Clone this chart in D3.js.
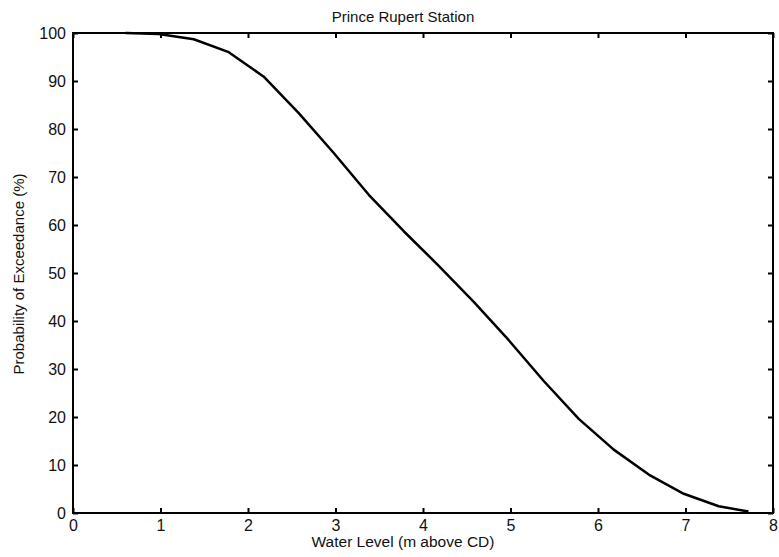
<!DOCTYPE html>
<html>
<head>
<meta charset="utf-8">
<script src="https://cdn.jsdelivr.net/npm/d3@7"></script>
<style>
  body { margin: 0; background: #fff; }
  text { font-family: "Liberation Sans", Arial, sans-serif; fill: #111; }
</style>
</head>
<body>
<svg id="plot" width="779" height="557"></svg>
<script>
const svg = d3.select('#plot');

// Data
const waterLevel = [0.6, 0.98, 1.38, 1.78, 2.18, 2.58, 2.98, 3.38, 3.78, 4.18, 4.58, 4.98, 5.38, 5.78, 6.18, 6.58, 6.98, 7.38, 7.72];
const exceedance = [100, 99.8, 98.7, 96, 90.9, 83.3, 75, 66.3, 58.7, 51.5, 44, 36, 27.5, 19.6, 13.2, 8, 4, 1.4, 0.3];
const xTicks = [0, 1, 2, 3, 4, 5, 6, 7, 8];
const yTicks = [0, 10, 20, 30, 40, 50, 60, 70, 80, 90, 100];

const data = waterLevel.map((x, i) => ({x: x, y: exceedance[i]}));

const margin = {top: 33, left: 73, right: 6, bottom: 44};
const innerWidth = 779 - margin.left - margin.right;
const innerHeight = 557 - margin.top - margin.bottom;

const xScale = d3.scaleLinear().domain([0, 8]).range([0, innerWidth]);
const yScale = d3.scaleLinear().domain([0, 100]).range([innerHeight, 0]);

const g = svg.append('g')
    .attr('transform', `translate(${margin.left}, ${margin.top})`);

// inward ticks on all four sides, like MATLAB
const tickLen = 5;
const xAxis = d3.axisBottom(xScale).tickValues(xTicks).tickSize(-tickLen).tickPadding(7).tickFormat(d3.format('d'));
const yAxis = d3.axisLeft(yScale).tickValues(yTicks).tickSize(-tickLen).tickPadding(7).tickFormat(d3.format('d'));
const xAxisTop = d3.axisTop(xScale).tickValues(xTicks).tickSize(-tickLen).tickFormat('');
const yAxisRight = d3.axisRight(yScale).tickValues(yTicks).tickSize(-tickLen).tickFormat('');

const styleAxis = sel => {
    sel.selectAll('.domain').remove();
    sel.selectAll('line').attr('stroke', '#000').attr('stroke-width', 2);
    sel.selectAll('text').attr('font-size', 16).attr('fill', '#111')
        .style('font-family', '"Liberation Sans", Arial, sans-serif');
};

g.append('g').attr('transform', `translate(0, ${innerHeight})`).call(xAxis).call(styleAxis);
g.append('g').call(yAxis).call(styleAxis);
g.append('g').call(xAxisTop).call(styleAxis);
g.append('g').attr('transform', `translate(${innerWidth}, 0)`).call(yAxisRight).call(styleAxis);

// box
g.append('rect')
    .attr('x', 0).attr('y', 0)
    .attr('width', innerWidth).attr('height', innerHeight)
    .attr('fill', 'none')
    .attr('stroke', '#000')
    .attr('stroke-width', 2);

const line = d3.line()
    .x(d => xScale(d.x))
    .y(d => yScale(d.y));

g.append('path')
    .datum(data)
    .attr('d', line)
    .attr('fill', 'none')
    .attr('stroke', '#000')
    .attr('stroke-width', 2.5)
    .attr('stroke-linejoin', 'round');

svg.append('text')
    .attr('x', 403).attr('y', 22)
    .attr('text-anchor', 'middle')
    .attr('font-size', 15)
    .text('Prince Rupert Station');

svg.append('text')
    .attr('x', 403).attr('y', 547)
    .attr('text-anchor', 'middle')
    .attr('font-size', 15.5)
    .text('Water Level (m above CD)');

svg.append('text')
    .attr('transform', 'translate(24, 274) rotate(-90)')
    .attr('text-anchor', 'middle')
    .attr('font-size', 15)
    .text('Probability of Exceedance (%)');
</script>
</body>
</html>
